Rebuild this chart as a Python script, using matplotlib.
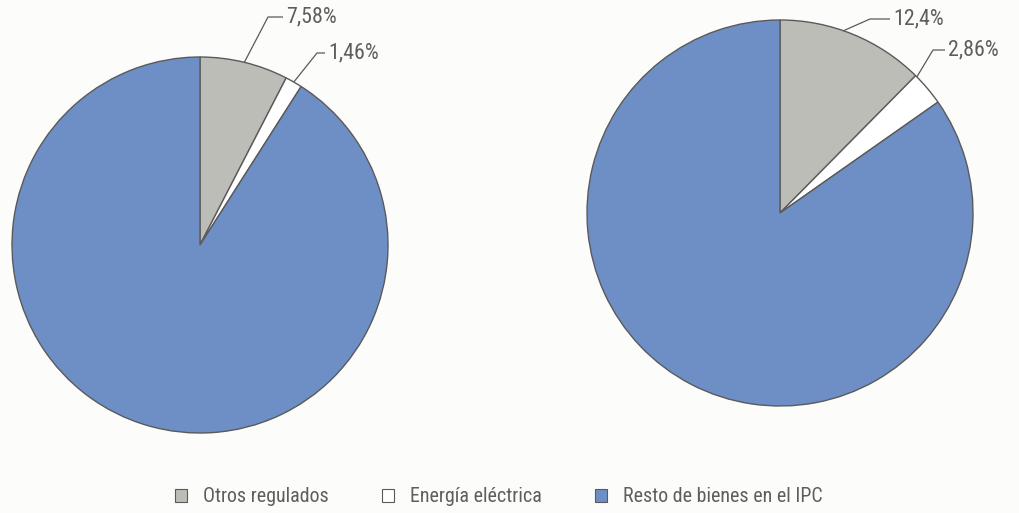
import numpy as np
import matplotlib
matplotlib.use("Agg")
import matplotlib.pyplot as plt
from matplotlib.patches import Patch

plt.rcParams['font.family'] = ['Roboto Condensed', 'Archivo Narrow', 'PT Sans Narrow',
                               'Liberation Sans', 'DejaVu Sans']

# Shares of regulated goods in the CPI basket (percent)
categories = ["Otros regulados", "Energía eléctrica", "Resto de bienes en el IPC"]
left_labels = ["7,58%", "1,46%"]
right_labels = ["12,4%", "2,86%"]
left_values = [7.58, 1.46, 100 - 7.58 - 1.46]
right_values = [12.4, 2.86, 100 - 12.4 - 2.86]

colors = ["#bdbdb8", "#ffffff", "#6d8fc6"]
edge = "#5a5a5a"
text_col = "#5e5e5e"

W, H = 1020, 513
fig = plt.figure(figsize=(W / 100, H / 100), dpi=100, facecolor="#fcfcfa")
ax = fig.add_axes([0, 0, 1, 1])
ax.set_facecolor("#fcfcfa")


def draw_pie(values, labels, center, radius, label_layout):
    wedges, _ = ax.pie(values, colors=colors, startangle=90, counterclock=False,
                       center=center, radius=radius, frame=True,
                       wedgeprops=dict(edgecolor=edge, linewidth=1.0))
    for w, lab, (frac, dx_el, dy_el, hlen) in zip(wedges[:2], labels, label_layout):
        # leader line anchored on the wedge's outer arc
        ang = np.deg2rad(w.theta2 - frac * (w.theta2 - w.theta1))
        px = center[0] + radius * np.cos(ang)
        py = center[1] + radius * np.sin(ang)
        ex, ey = center[0] + dx_el, center[1] + dy_el
        ax.plot([px, ex, ex + hlen], [py, ey, ey], color=edge, lw=0.9,
                solid_capstyle="butt")
        ax.text(ex + hlen + 3, ey, lab, ha="left", va="center",
                fontsize=15.8, color=text_col)


draw_pie(left_values, left_labels, (200, H - 245), 188,
         [(0.5, 68, 228, 15), (0.5, 117, 192, 8)])
draw_pie(right_values, right_labels, (780, H - 213), 193,
         [(0.43, 90, 194, 20), (0.05, 153, 163, 12)])

ax.set_xlim(0, W)
ax.set_ylim(0, H)
ax.set_aspect("auto")
ax.axis("off")

handles = [Patch(facecolor=c, edgecolor=edge, linewidth=0.8) for c in colors]
fig.legend(handles, categories, loc="center", bbox_to_anchor=(0.489, 1 - 497 / H),
           ncol=3, frameon=False, fontsize=14.4, labelcolor=text_col,
           handlelength=0.6, handleheight=0.6, handletextpad=0.8,
           columnspacing=2.65)

fig.savefig("out.png", dpi=100, facecolor=fig.get_facecolor())
